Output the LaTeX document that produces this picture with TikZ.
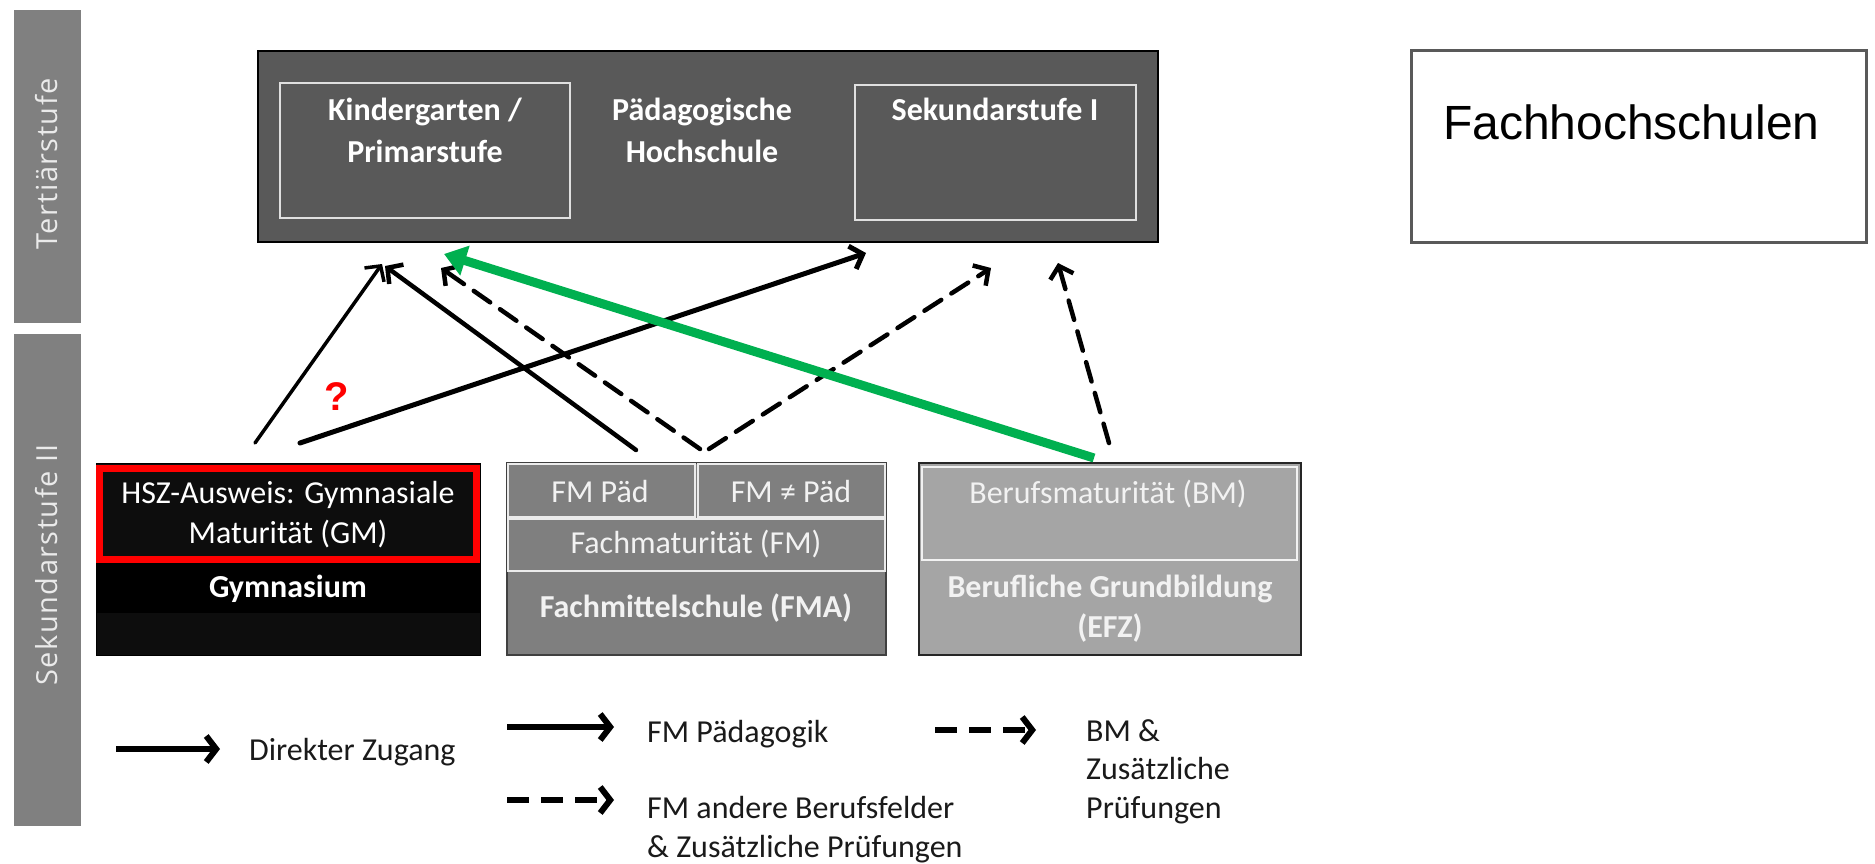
\documentclass[tikz,border=0pt]{standalone}
\usepackage{fontspec}
\setmainfont{Carlito}
\newfontfamily\arialf{Liberation Sans}
\newfontfamily\osf[LetterSpace=5]{Open Sans}
\usetikzlibrary{arrows.meta}
\definecolor{barg}{HTML}{808080}
\definecolor{phg}{HTML}{595959}
\definecolor{fmsg}{HTML}{7F7F7F}
\definecolor{bmg}{HTML}{A5A5A5}
\definecolor{gymk}{HTML}{0D0D0D}
\definecolor{grn}{HTML}{00B050}
\definecolor{fhb}{HTML}{595959}
\definecolor{txtw}{HTML}{F2F2F2}
\definecolor{legtxt}{HTML}{1A1A1A}
\definecolor{bartxt}{HTML}{EAEAEA}
\newcommand\myfs[2]{\fontsize{#1}{#2}\selectfont}
\begin{document}
\begin{tikzpicture}[x=1pt,y=-1pt,
  box/.style={anchor=north west, inner sep=0pt, outer sep=0pt},
  lbl/.style={inner sep=0pt, anchor=base, font=\myfs{32}{40}},
  blbl/.style={lbl, font=\myfs{32}{40}\bfseries},
  conn/.style={-{Straight Barb[length=11pt,width=24pt]}, line cap=round, line join=round},
  dsh/.style={dash pattern=on 20pt off 12pt},
  legarrow/.style={-{Straight Barb[length=10pt,width=26pt]}, line width=6pt},
  barlbl/.style={rotate=90, text=bartxt, inner sep=0pt, font=\osf\myfs{29}{34}},
]
\useasboundingbox (0,0) rectangle (1875,864);

% side bars
\node[box, fill=barg, minimum width=67pt, minimum height=313pt] (tbar) at (14,10) {};
\node[barlbl] (tlab) at (47,164) {Tertiärstufe};
\node[box, fill=barg, minimum width=67pt, minimum height=492pt] (sbar) at (14,334) {};
\node[barlbl] (slab) at (47,565) {Sekundarstufe II};

% Pädagogische Hochschule
\node[box, fill=phg, draw=black, line width=1.5pt, minimum width=900pt, minimum height=191pt] (ph) at (258,51) {};
\node[box, draw=white!88!black, line width=2pt, minimum width=290pt, minimum height=135pt] (kg) at (280,83) {};
\node[box, draw=white!88!black, line width=2pt, minimum width=281pt, minimum height=135pt] (sek) at (855,85) {};
\node[blbl, text=white] (kgA) at (425,121) {Kindergarten /};
\node[blbl, text=white] (kgB) at (425,163) {Primarstufe};
\node[blbl, text=white] (phA) at (702,121) {Pädagogische};
\node[blbl, text=white] (phB) at (702,163) {Hochschule};
\node[blbl, text=white] (sekA) at (995,121) {Sekundarstufe I};

% Fachhochschulen
\node[box, fill=white, draw=fhb, line width=3pt, minimum width=455pt, minimum height=191pt] (fh) at (1411,51) {};
\node[inner sep=0pt, anchor=base west, font=\arialf\myfs{48}{56}] (fhA) at (1443,140) {Fachhochschulen};

% Gymnasium
\node[box, fill=gymk, draw=black, line width=1pt, minimum width=384pt, minimum height=192pt] (gym) at (96,463) {};
\node[box, fill=black, minimum width=384pt, minimum height=50pt] (gymband) at (96,563) {};
\node[box, draw=red, line width=7pt, minimum width=377pt, minimum height=91pt] (gm) at (99.5,468.5) {};
\node[lbl, text=white] (gmA) at (288,503) {HSZ-Ausweis: Gymnasiale};
\node[lbl, text=white] (gmB) at (288,543) {Maturität (GM)};
\node[blbl, text=white] (gymA) at (288,597) {Gymnasium};

% Fachmittelschule
\node[box, fill=fmsg, draw=black!75, line width=1.5pt, minimum width=379pt, minimum height=192pt] (fms) at (507,463) {};
\node[box, draw=white!92!black, line width=2pt, minimum width=187pt, minimum height=53pt] (fmp) at (508,464) {};
\node[box, draw=white!92!black, line width=2pt, minimum width=187pt, minimum height=53pt] (fmn) at (698,464) {};
\node[box, draw=white!92!black, line width=2pt, minimum width=377pt, minimum height=52pt] (fm) at (508,519) {};
\node[lbl, text=txtw] (fmpA) at (600,502) {FM Päd};
\node[lbl, text=txtw] (fmnA) at (791,502) {FM ≠ Päd};
\node[lbl, text=txtw] (fmA) at (696,553) {Fachmaturität (FM)};
\node[blbl, text=txtw] (fmsA) at (696,617) {Fachmittelschule (FMA)};

% Berufliche Grundbildung
\node[box, fill=bmg, draw=black!85, line width=1.5pt, minimum width=382pt, minimum height=192pt] (bg) at (919,463) {};
\node[box, draw=white!95!black, line width=2pt, minimum width=375pt, minimum height=93pt] (bm) at (922,467) {};
\node[lbl, text=txtw] (bmA) at (1108,503) {Berufsmaturität (BM)};
\node[blbl, text=txtw] (bgA) at (1110,597) {Berufliche Grundbildung};
\node[blbl, text=txtw] (bgB) at (1110,637) {(EFZ)};

% question mark
\node[inner sep=0pt, text=red, font=\arialf\bfseries\myfs{40}{44}] (q) at (337,397) {?};

% connector end points
\coordinate (a1s) at (255,443); \coordinate (a1e) at (382,264);
\coordinate (a2s) at (300,443); \coordinate (a2e) at (866,253);
\coordinate (a3s) at (636,450); \coordinate (a3e) at (385,266);
\coordinate (a4s) at (700,449); \coordinate (a4e) at (441,268);
\coordinate (a5s) at (709,449); \coordinate (a5e) at (991,268);
\coordinate (a6s) at (1109,443); \coordinate (a6e) at (1058,263);
\coordinate (a7s) at (1094,458); \coordinate (a7e) at (444,254);

\draw[conn, line width=3.5pt] (a1s) -- (a1e);
\draw[conn, line width=5pt] (a2s) -- (a2e);
\draw[conn, line width=4.5pt] (a3s) -- (a3e);
\draw[conn, dsh, line width=4.5pt] (a4s) -- (a4e);
\draw[conn, dsh, line width=4.5pt] (a5s) -- (a5e);
\draw[conn, dsh, line width=4.5pt] (a6s) -- (a6e);
\draw[grn, line width=9pt, -{Triangle[length=22pt,width=30pt]}] (a7s) -- (a7e);

% legend
\coordinate (l1s) at (116,749); \coordinate (l1e) at (220,749);
\coordinate (l2s) at (507,727); \coordinate (l2e) at (614,727);
\coordinate (l3s) at (507,800); \coordinate (l3e) at (614,800);
\coordinate (l4s) at (935,730); \coordinate (l4e) at (1036,730);
\draw[legarrow] (l1s) -- (l1e);
\draw[legarrow] (l2s) -- (l2e);
\draw[legarrow, dash pattern=on 22pt off 12pt] (l3s) -- (l3e);
\draw[legarrow, dash pattern=on 22pt off 12pt] (l4s) -- (l4e);
\node[lbl, anchor=base west, text=legtxt] (t1) at (249,760) {Direkter Zugang};
\node[lbl, anchor=base west, text=legtxt] (t2) at (647,742) {FM Pädagogik};
\node[lbl, anchor=base west, text=legtxt] (t3a) at (647,818) {FM andere Berufsfelder};
\node[lbl, anchor=base west, text=legtxt] (t3b) at (647,857) {\& Zusätzliche Prüfungen};
\node[lbl, anchor=base west, text=legtxt] (t4a) at (1086,741) {BM \&};
\node[lbl, anchor=base west, text=legtxt] (t4b) at (1086,779) {Zusätzliche};
\node[lbl, anchor=base west, text=legtxt] (t4c) at (1086,818) {Prüfungen};
\end{tikzpicture}
\end{document}
